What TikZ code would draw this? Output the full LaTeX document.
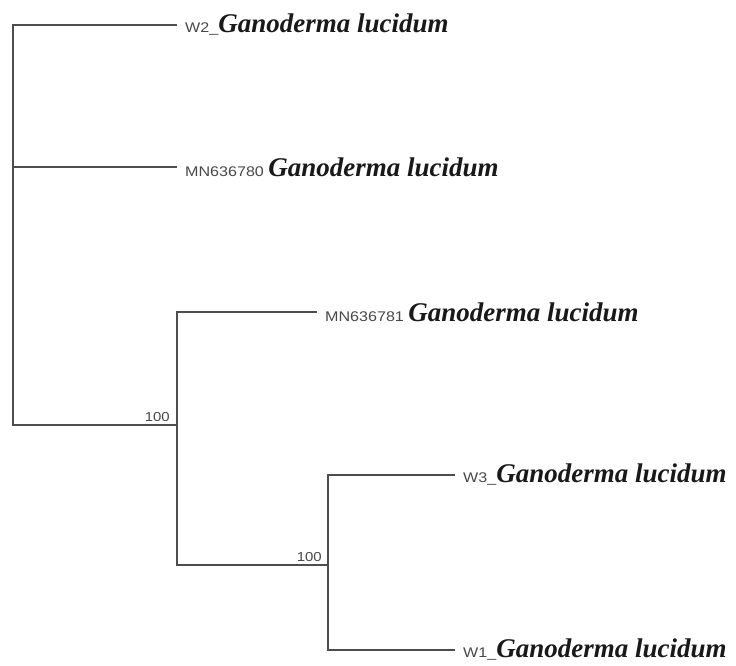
\documentclass[tikz,border=0pt]{standalone}
\usepackage{fontspec}
\newfontfamily\tipfont{Liberation Serif}
\newfontfamily\labfont[FakeStretch=1.15]{Liberation Sans}
\definecolor{branchgray}{HTML}{4D4D4D}
\definecolor{labgray}{HTML}{484848}
\newcommand\tipname[2]{{\labfont\fontsize{14}{16}\selectfont\color{labgray}#1}{\tipfont\bfseries\itshape\fontsize{27}{30}\selectfont #2}}
\begin{document}
\begin{tikzpicture}[x=1pt,y=-1pt,
  branch/.style={draw=branchgray, line width=2pt},
  tip/.style={anchor=west, inner xsep=8pt, inner ysep=0pt, text=black!90},
  boot/.style={anchor=south east, inner sep=0pt, font=\labfont\fontsize{13}{13}\selectfont, text=labgray}]
\useasboundingbox (0,0) rectangle (736,665);
% tips
\node[tip] (W2) at (177,25) {\tipname{W2\_}{Ganoderma lucidum}};
\node[tip] (M780) at (177,167) {\tipname{MN636780 }{Ganoderma lucidum}};
\node[tip] (M781) at (317,312) {\tipname{MN636781 }{Ganoderma lucidum}};
\node[tip] (W3) at (455,475) {\tipname{W3\_}{Ganoderma lucidum}};
\node[tip] (W1) at (455,650) {\tipname{W1\_}{Ganoderma lucidum}};
% internal nodes
\coordinate (R) at (13,425);
\coordinate (A) at (177,425);
\coordinate (B) at (328,565);
% branches
\draw[branch] (W2.west) -| (R) -- (A);
\draw[branch] (M780.west) -- (M780.west -| R);
\draw[branch] (M781.west) -| (A) |- (B);
\draw[branch] (W3.west) -| (B) |- (W1.west);
% bootstrap values
\node[boot] (bA) at ([xshift=-7pt,yshift=3pt]A) {100};
\node[boot] (bB) at ([xshift=-6pt,yshift=3pt]B) {100};
\end{tikzpicture}
\end{document}
